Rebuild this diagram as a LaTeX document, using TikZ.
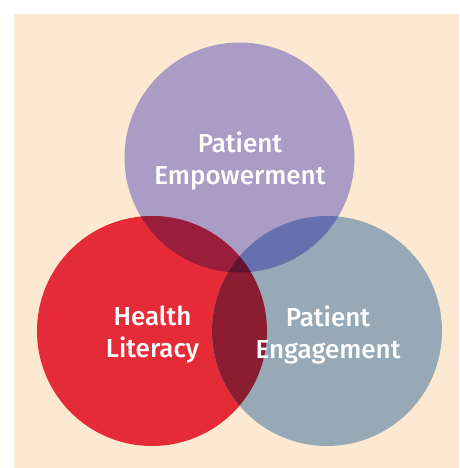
\documentclass[tikz,border=0pt]{standalone}
\usepackage{fontspec}
\setmainfont{Fira Sans}[UprightFont=* Medium]
\definecolor{bgbeige}{HTML}{FDE9D1}
\definecolor{cpurple}{HTML}{AB9CC6}
\definecolor{cred}{HTML}{E52B38}
\definecolor{cgray}{HTML}{97A8B7}
\definecolor{rp}{HTML}{981E3C}
\definecolor{pg}{HTML}{6670AF}
\definecolor{rg}{HTML}{8A1D31}
\definecolor{rpg}{HTML}{5F1530}
\tikzset{
  lbl/.style={text=white, align=center, font=\fontsize{26}{32}\selectfont, inner sep=0pt},
}
\begin{document}
\begin{tikzpicture}[x=1pt,y=-1pt]
\useasboundingbox (0,0) rectangle (459,468);
\fill[bgbeige] (14,14) rectangle (459,468);
% circle centres and radius
\coordinate (cp) at (239.5,157.5);
\coordinate (cr) at (152,331);
\coordinate (cg) at (327,331);
\def\rad{115pt}
% single circles
\fill[cpurple] (cp) circle[radius=\rad];
\fill[cred] (cr) circle[radius=\rad];
\fill[cgray] (cg) circle[radius=\rad];
% pairwise overlaps
\begin{scope}
  \clip (cp) circle[radius=\rad];
  \fill[rp] (cr) circle[radius=\rad];
\end{scope}
\begin{scope}
  \clip (cp) circle[radius=\rad];
  \fill[pg] (cg) circle[radius=\rad];
\end{scope}
\begin{scope}
  \clip (cr) circle[radius=\rad];
  \fill[rg] (cg) circle[radius=\rad];
\end{scope}
% centre overlap
\begin{scope}
  \clip (cp) circle[radius=\rad];
  \clip (cr) circle[radius=\rad];
  \fill[rpg] (cg) circle[radius=\rad];
\end{scope}
% labels
\node[lbl] (lp) at (240,161) {Patient\\Empowerment};
\node[lbl] (lr) at (152.5,335) {Health\\Literacy};
\node[lbl] (lg) at (328,335) {Patient\\Engagement};
\end{tikzpicture}
\end{document}
